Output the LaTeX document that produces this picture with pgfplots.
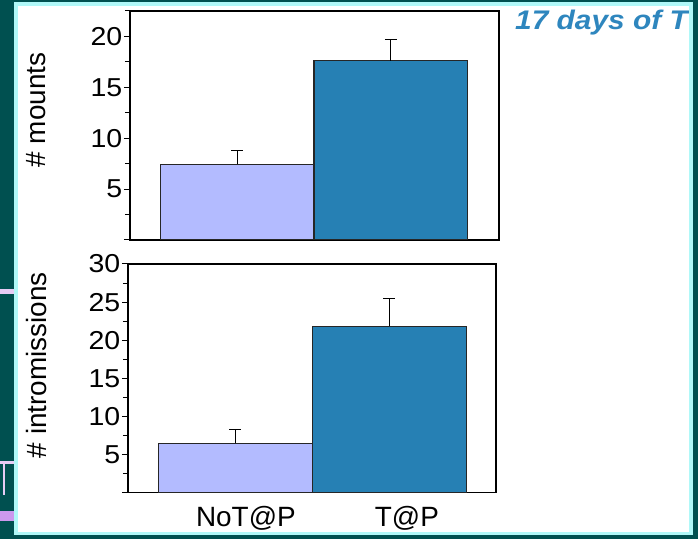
\documentclass[border=0pt]{standalone}
\usepackage{fontspec}
\setmainfont{Liberation Sans}
\usepackage{pgfplots}
\pgfplotsset{compat=1.18}
\definecolor{bgteal}{HTML}{005050}
\definecolor{bgcyan}{HTML}{B0F8F8}
\definecolor{lav}{HTML}{E6CCF5}
\definecolor{purp}{HTML}{CC99EE}
\definecolor{barA}{HTML}{B3BBFF}
\definecolor{barB}{HTML}{2680B4}
\definecolor{titleblue}{HTML}{2E86BE}
\newcommand{\sx}[1]{\scalebox{1.1}[1]{#1}}
\pgfplotsset{myax/.style={
  scale only axis,
  axis line style={line width=1.3bp, black},
  tick style={line width=1bp, black},
  tick align=outside,
  ytick pos=left,
  xtick pos=bottom,
  major tick length=6bp,
  minor tick length=5bp,
  ymin=0,
  /pgf/number format/assume math mode=true,
  tick label style={font=\fontsize{26}{30}\selectfont},
  yticklabel style={inner sep=1.5bp},
  label style={font=\fontsize{28}{32}\selectfont},
  ybar,
},
mybar/.style={bar width=1, bar shift=0pt, draw=black!85, line width=1.2bp, fill=#1,
  error bars/.cd, y dir=plus, y explicit,
  error mark=-, error mark options={rotate=90, mark size=6bp, line width=1.2bp, black},
  error bar style={line width=1.2bp, black}},
}
\begin{document}
\begin{tikzpicture}[x=1bp,y=1bp]
\useasboundingbox (0,0) rectangle (698,539);
\fill[bgteal] (0,0) rectangle (698,539);
\fill[bgcyan] (14.3,4) rectangle (693.3,537.3);
\fill[white] (18,7.3) rectangle (689,533);
\fill[lav] (0,245) rectangle (14,250);
\fill[lav] (0,75) rectangle (14,78);
\fill[lav] (3.3,44) rectangle (4.7,75);
\fill[purp] (0,18.3) rectangle (14,28.3);
\coordinate (TopSW) at (130,299);
\coordinate (BotSW) at (128,46.3);

% top axis: # mounts
\begin{axis}[myax,
  at={(TopSW)}, anchor=south west,
  width=369bp, height=229bp,
  xmin=-0.697, xmax=1.704,
  xtick=\empty,
  ymax=22.5,
  ytick={0,5,10,15,20}, yticklabels={,\sx{5},\sx{10},\sx{15},\sx{20}},
  minor ytick={2.5,7.5,12.5,17.5,22.5},
  ylabel={\# mounts},
  ylabel style={at={(axis description cs:-0.255,0.568)}, anchor=center},
]
\addplot[mybar=barA] coordinates {(0,7.44) +- (0,1.38)};
\addplot[mybar=barB] coordinates {(1,17.6) +- (0,2.13)};
\end{axis}

% bottom axis: # intromissions
\begin{axis}[myax,
  at={(BotSW)}, anchor=south west,
  width=368bp, height=228.7bp,
  xmin=-0.6975, xmax=1.694,
  xtick={0.0685,1.115}, xticklabels={NoT@P,T@P},
  xticklabel style={font=\fontsize{28}{32}\selectfont, yshift=-4bp},
  xtick style={draw=none},
  extra x ticks={0.5}, extra x tick labels={},
  extra x tick style={tick style={line width=1bp, black}, major tick length=5bp},
  ymax=30,
  ytick={0,5,10,15,20,25,30}, yticklabels={,\sx{5},\sx{10},\sx{15},\sx{20},\sx{25},\sx{30}},
  minor ytick={2.5,7.5,12.5,17.5,22.5,27.5},
  ylabel={\# intromissions},
  ylabel style={at={(axis description cs:-0.249,0.558)}, anchor=center},
]
\addplot[mybar=barA] coordinates {(0,6.48) +- (0,1.79)};
\addplot[mybar=barB] coordinates {(1,21.84) +- (0,3.62)};
\end{axis}

\node[anchor=base west, text=titleblue, inner sep=0pt,
  font=\fontsize{27}{30}\selectfont\bfseries\itshape] at (515,509) {\scalebox{1.11}[1]{17 days of T}};
\fill[bgcyan] (689,4) rectangle (693.3,537.3);
\fill[bgteal] (693.3,0) rectangle (698,539);
\end{tikzpicture}
\end{document}
